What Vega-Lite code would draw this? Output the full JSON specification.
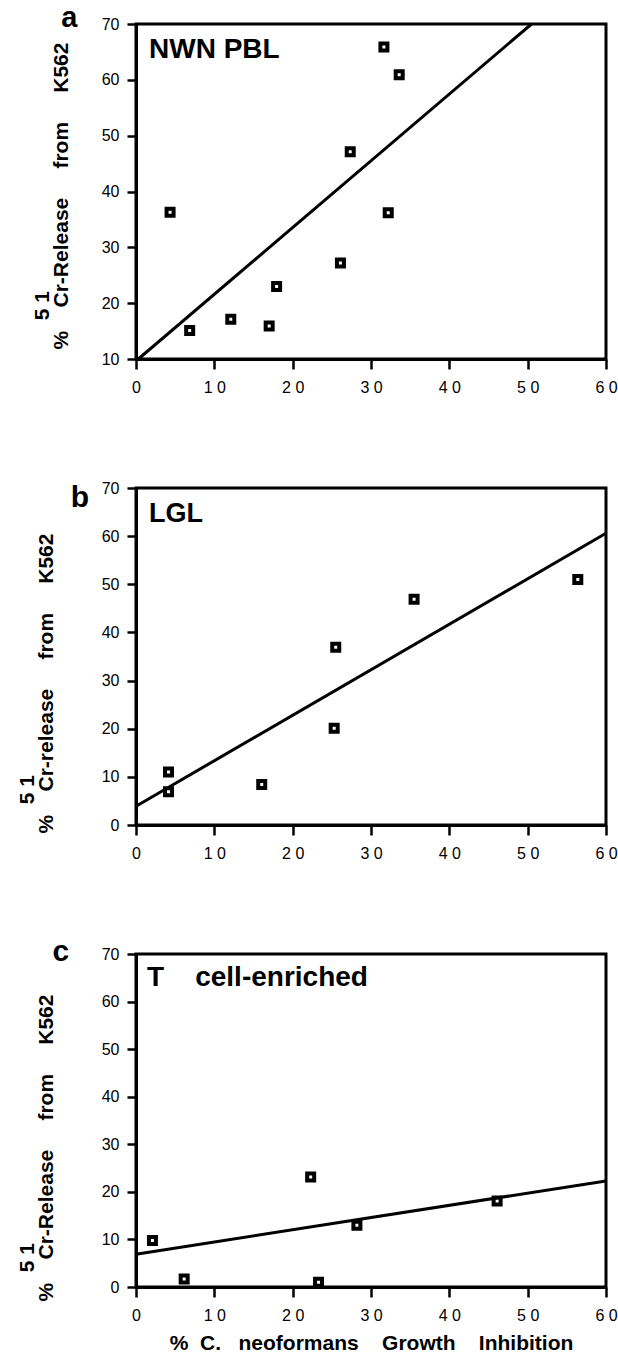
{
  "$schema": "https://vega.github.io/schema/vega-lite/v6.json",
  "background": "white",
  "padding": {"left": 14, "top": 2, "right": 5, "bottom": 5},
  "bounds": "flush",
  "spacing": 129,
  "config": {
    "font": "Liberation Sans",
    "view": {"stroke": "black", "strokeWidth": 3},
    "axis": {
      "domainColor": "black", "domainWidth": 3,
      "tickColor": "black", "tickWidth": 2.5,
      "labelColor": "black", "labelFont": "Liberation Sans", "labelFontSize": 16, "labelFlush": false, "labelOverlap": false,
      "grid": false,
      "titleColor": "black", "titleFont": "Liberation Sans", "titleFontWeight": "bold"
    }
  },
  "vconcat": [
    {
      "width": 470, "height": 335,
      "layer": [
        {
          "data": {"values": [
            {"x": 4.35, "y": 36.3}, {"x": 6.85, "y": 15.1}, {"x": 12.1, "y": 17.1}, {"x": 17.0, "y": 15.9},
            {"x": 17.95, "y": 23.0}, {"x": 26.1, "y": 27.2}, {"x": 27.35, "y": 47.1}, {"x": 31.65, "y": 65.9},
            {"x": 33.6, "y": 60.9}, {"x": 32.2, "y": 36.2}
          ]},
          "mark": {"type": "point", "shape": "square", "filled": false, "stroke": "black", "strokeWidth": 4, "size": 49, "opacity": 1},
          "encoding": {
            "x": {"field": "x", "type": "quantitative", "scale": {"domain": [0, 60]},
              "axis": {"title": null, "values": [0,5,10,15,20,25,30,35,40,45,50,55,60], "tickSize": 10, "labelPadding": 10,
                "labelExpr": "datum.value % 10 === 0 ? (length(datum.label) > 1 ? slice(datum.label, 0, 1) + ' ' + slice(datum.label, 1) : datum.label) : ''"}},
            "y": {"field": "y", "type": "quantitative", "scale": {"domain": [10, 70]},
              "axis": {"values": [10,15,20,25,30,35,40,45,50,55,60,65,70], "tickSize": 9, "labelPadding": 8,
                "labelExpr": "datum.value % 10 === 0 ? datum.label : ''",
                "title": ["\u200b\u00a0\u00a0\u00a0\u00a0\u00a05 1", "%\u00a0\u00a0\u00a0\u00a0Cr-Release\u00a0\u00a0\u00a0\u00a0\u00a0from\u00a0\u00a0\u00a0\u00a0\u00a0K562"],
                "titleFontSize": 21, "titleLineHeight": 19, "titleAngle": -90, "titleAlign": "left", "titleBaseline": "bottom",
                "titleX": -84, "titleY": 325}}
          }
        },
        {
          "data": {"values": [{"x": 0.3, "y": 10}, {"x": 50.5, "y": 70}]},
          "mark": {"type": "line", "color": "black", "strokeWidth": 3},
          "encoding": {"x": {"field": "x", "type": "quantitative"}, "y": {"field": "y", "type": "quantitative"}}
        },
        {
          "data": {"values": [{"label": "NWN PBL"}]},
          "mark": {"type": "text", "fontSize": 28, "fontWeight": "bold", "align": "left", "baseline": "alphabetic", "color": "black"},
          "encoding": {"x": {"datum": 1.66, "type": "quantitative"}, "y": {"datum": 63.9, "type": "quantitative"}, "text": {"field": "label"}}
        },
        {
          "data": {"values": [{"label": "a"}]},
          "mark": {"type": "text", "fontSize": 29, "fontWeight": "bold", "align": "center", "baseline": "alphabetic", "color": "black"},
          "encoding": {"x": {"datum": -8.5, "type": "quantitative"}, "y": {"datum": 69.5, "type": "quantitative"}, "text": {"field": "label"}}
        }
      ]
    },
    {
      "width": 470, "height": 337,
      "layer": [
        {
          "data": {"values": [
            {"x": 4.15, "y": 11.0}, {"x": 4.15, "y": 6.9}, {"x": 16.05, "y": 8.4}, {"x": 25.3, "y": 20.1},
            {"x": 25.5, "y": 36.9}, {"x": 35.5, "y": 46.9}, {"x": 56.4, "y": 51.0}
          ]},
          "mark": {"type": "point", "shape": "square", "filled": false, "stroke": "black", "strokeWidth": 4, "size": 49, "opacity": 1},
          "encoding": {
            "x": {"field": "x", "type": "quantitative", "scale": {"domain": [0, 60]},
              "axis": {"title": null, "values": [0,5,10,15,20,25,30,35,40,45,50,55,60], "tickSize": 10, "labelPadding": 10,
                "labelExpr": "datum.value % 10 === 0 ? (length(datum.label) > 1 ? slice(datum.label, 0, 1) + ' ' + slice(datum.label, 1) : datum.label) : ''"}},
            "y": {"field": "y", "type": "quantitative", "scale": {"domain": [0, 70]},
              "axis": {"values": [0,5,10,15,20,25,30,35,40,45,50,55,60,65,70], "tickSize": 9, "labelPadding": 8,
                "labelExpr": "datum.value % 10 === 0 ? datum.label : ''",
                "title": ["\u200b\u00a0\u00a0\u00a0\u00a0\u00a05 1", "%\u00a0\u00a0\u00a0\u00a0Cr-release\u00a0\u00a0\u00a0\u00a0\u00a0from\u00a0\u00a0\u00a0\u00a0\u00a0K562"],
                "titleFontSize": 21, "titleLineHeight": 19, "titleAngle": -90, "titleAlign": "left", "titleBaseline": "bottom",
                "titleX": -99, "titleY": 345}}
          }
        },
        {
          "data": {"values": [{"x": 0, "y": 3.9}, {"x": 60, "y": 60.6}]},
          "mark": {"type": "line", "color": "black", "strokeWidth": 3},
          "encoding": {"x": {"field": "x", "type": "quantitative"}, "y": {"field": "y", "type": "quantitative"}}
        },
        {
          "data": {"values": [{"label": "LGL"}]},
          "mark": {"type": "text", "fontSize": 27, "fontWeight": "bold", "align": "left", "baseline": "alphabetic", "color": "black"},
          "encoding": {"x": {"datum": 1.66, "type": "quantitative"}, "y": {"datum": 62.9, "type": "quantitative"}, "text": {"field": "label"}}
        },
        {
          "data": {"values": [{"label": "b"}]},
          "mark": {"type": "text", "fontSize": 30, "fontWeight": "bold", "align": "center", "baseline": "alphabetic", "color": "black"},
          "encoding": {"x": {"datum": -7.15, "type": "quantitative"}, "y": {"datum": 66.0, "type": "quantitative"}, "text": {"field": "label"}}
        }
      ]
    },
    {
      "width": 470, "height": 333,
      "layer": [
        {
          "data": {"values": [
            {"x": 2.1, "y": 9.8}, {"x": 6.15, "y": 1.7}, {"x": 22.3, "y": 23.1}, {"x": 23.3, "y": 1.0},
            {"x": 28.2, "y": 13.0}, {"x": 46.1, "y": 18.1}
          ]},
          "mark": {"type": "point", "shape": "square", "filled": false, "stroke": "black", "strokeWidth": 4, "size": 49, "opacity": 1},
          "encoding": {
            "x": {"field": "x", "type": "quantitative", "scale": {"domain": [0, 60]},
              "axis": {"title": "%\u00a0\u00a0C.\u00a0\u00a0\u00a0neoformans\u00a0\u00a0\u00a0\u00a0Growth\u00a0\u00a0\u00a0\u00a0Inhibition", "titleFontSize": 21, "titlePadding": 9,
                "values": [0,5,10,15,20,25,30,35,40,45,50,55,60], "tickSize": 10, "labelPadding": 10,
                "labelExpr": "datum.value % 10 === 0 ? (length(datum.label) > 1 ? slice(datum.label, 0, 1) + ' ' + slice(datum.label, 1) : datum.label) : ''"}},
            "y": {"field": "y", "type": "quantitative", "scale": {"domain": [0, 70]},
              "axis": {"values": [0,5,10,15,20,25,30,35,40,45,50,55,60,65,70], "tickSize": 9, "labelPadding": 8,
                "labelExpr": "datum.value % 10 === 0 ? datum.label : ''",
                "title": ["\u200b\u00a0\u00a0\u00a0\u00a0\u00a05 1", "%\u00a0\u00a0\u00a0\u00a0Cr-Release\u00a0\u00a0\u00a0\u00a0\u00a0from\u00a0\u00a0\u00a0\u00a0\u00a0K562"],
                "titleFontSize": 21, "titleLineHeight": 19, "titleAngle": -90, "titleAlign": "left", "titleBaseline": "bottom",
                "titleX": -99, "titleY": 347}}
          }
        },
        {
          "data": {"values": [{"x": 0, "y": 6.9}, {"x": 60, "y": 22.3}]},
          "mark": {"type": "line", "color": "black", "strokeWidth": 3},
          "encoding": {"x": {"field": "x", "type": "quantitative"}, "y": {"field": "y", "type": "quantitative"}}
        },
        {
          "data": {"values": [{"label": "T\u00a0\u00a0\u00a0\u00a0cell-enriched"}]},
          "mark": {"type": "text", "fontSize": 28, "fontWeight": "bold", "align": "left", "baseline": "alphabetic", "color": "black"},
          "encoding": {"x": {"datum": 1.4, "type": "quantitative"}, "y": {"datum": 63.3, "type": "quantitative"}, "text": {"field": "label"}}
        },
        {
          "data": {"values": [{"label": "c"}]},
          "mark": {"type": "text", "fontSize": 30, "fontWeight": "bold", "align": "center", "baseline": "alphabetic", "color": "black"},
          "encoding": {"x": {"datum": -9.6, "type": "quantitative"}, "y": {"datum": 68.5, "type": "quantitative"}, "text": {"field": "label"}}
        }
      ]
    }
  ]
}
